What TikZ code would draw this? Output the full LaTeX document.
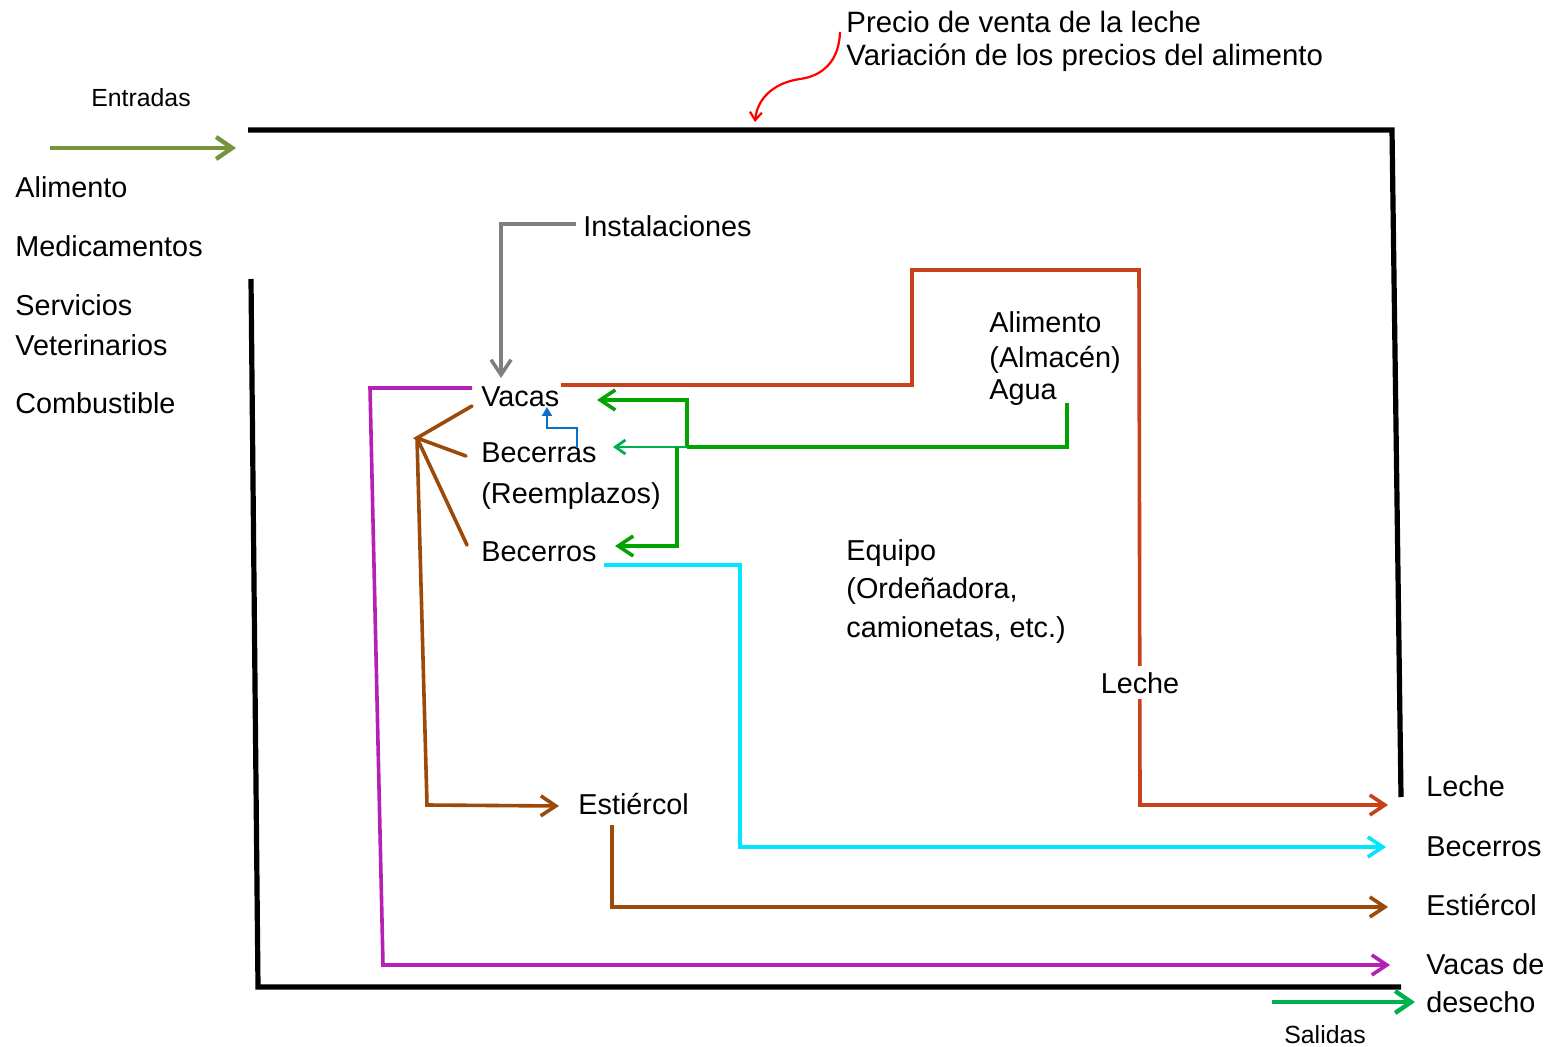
\documentclass[tikz,border=0pt]{standalone}
\usepackage{fontspec}
\setmainfont{Liberation Sans}
\usetikzlibrary{arrows.meta}
\definecolor{cRed}{RGB}{200,64,28}
\definecolor{cBrown}{RGB}{156,74,10}
\definecolor{cCyan}{RGB}{0,230,255}
\definecolor{cMag}{RGB}{181,32,181}
\definecolor{cGreen}{RGB}{0,163,0}
\definecolor{cLGreen}{RGB}{0,176,80}
\definecolor{cGray}{RGB}{127,127,127}
\definecolor{cBlue}{RGB}{10,112,200}
\definecolor{cOlive}{RGB}{119,147,60}
\definecolor{cCurve}{RGB}{255,0,0}
\begin{document}
\begin{tikzpicture}[x=0.5pt,y=-0.5pt,
  lbl/.style={anchor=base west, inner sep=0pt, font=\fontsize{14.4}{17}\selectfont},
  toplbl/.style={anchor=base west, inner sep=0pt, font=\fontsize{14.7}{17}\selectfont},
  smalllbl/.style={anchor=base west, inner sep=0pt, font=\fontsize{12.4}{15}\selectfont},
  flow/.style={line width=1.8pt, -{Straight Barb[length=7.5pt,width=10pt]}},
  bigflow/.style={line width=2.2pt, -{Straight Barb[length=8pt,width=11pt]}},
  thinflow/.style={line width=1.4pt, -{Triangle[length=4.5pt,width=5pt]}},
  frameline/.style={line width=2.6pt}]
\useasboundingbox (0,0) rectangle (1552,1047);

% ---- texts ----
\node[smalllbl] (entradas) at (91,107) {Entradas};
\node[lbl] (ialim) at (15,198) {Alimento};
\node[lbl] (imed) at (15,257) {Medicamentos};
\node[lbl] (iserv) at (15,316) {Servicios};
\node[lbl] (ivet) at (15,356) {Veterinarios};
\node[lbl] (icomb) at (15,414) {Combustible};
\node[toplbl] (precio) at (846,33) {Precio de venta de la leche};
\node[toplbl] (variac) at (846,66) {Variación de los precios del alimento};
\node[lbl] (inst) at (583,237) {Instalaciones};
\node[lbl] (vacas) at (481,407) {Vacas};
\node[lbl] (becerras) at (481,463) {Becerras};
\node[lbl] (reempl) at (481,504) {(Reemplazos)};
\node[lbl] (becerros) at (481,561) {Becerros};
\node[lbl] (alalm) at (989,333) {Alimento};
\node[lbl] (almacen) at (989,368) {(Almacén)};
\node[lbl] (agua) at (989,400) {Agua};
\node[lbl] (equipo) at (846,560) {Equipo};
\node[lbl] (orden) at (846,598) {(Ordeñadora,};
\node[lbl] (camion) at (846,637) {camionetas, etc.)};
\node[lbl] (estierc) at (578,814) {Estiércol};
\node[lbl] (oleche) at (1426,796) {Leche};
\node[lbl] (obecerros) at (1426,856) {Becerros};
\node[lbl] (oestierc) at (1426,915) {Estiércol};
\node[lbl] (ovacas) at (1426,974) {Vacas de};
\node[lbl] (odesecho) at (1426,1012) {desecho};
\node[smalllbl] (salidas) at (1284,1043) {Salidas};

% ---- named coordinates ----
\coordinate (entA) at (50,148);
\coordinate (entB) at (236,148);
\coordinate (salA) at (1272,1002);
\coordinate (salB) at (1415,1002);
\coordinate (curveA) at (840,32);
\coordinate (curveB) at (755,122);
\coordinate (instA) at (576,224);
\coordinate (instB) at (501,378);
\coordinate (redA) at (561,385);
\coordinate (redB) at (1388,805);
\coordinate (aguaA) at (1067,403);
\coordinate (gj1) at (687,447);
\coordinate (gj2) at (677,447);
\coordinate (gVac) at (597,400);
\coordinate (gBra) at (613,447);
\coordinate (gBro) at (615,546);
\coordinate (blueA) at (577,448);
\coordinate (blueB) at (547,407);
\coordinate (fan) at (417,438);
\coordinate (fVac) at (472,406);
\coordinate (fBra) at (466,456);
\coordinate (fBro) at (467,545);
\coordinate (brEst) at (559,806);
\coordinate (est2A) at (612,825);
\coordinate (est2B) at (1388,907);
\coordinate (cyA) at (604,565);
\coordinate (cyB) at (1386,847);
\coordinate (magA) at (472,388);
\coordinate (magB) at (1390,965);

% ---- frame ----
\draw[frameline] (248,130) -- (1392,130) -- (1401,797);
\draw[frameline] (251,279) -- (258,987) -- (1401,987);

% ---- inputs / outputs ----
\draw[bigflow, cOlive] (entA) -- (entB);
\draw[bigflow, cLGreen] (salA) -- (salB);
\draw[cCurve, line width=1.1pt, -{Straight Barb[length=4pt,width=6pt]}]
  (curveA) .. controls (839,62) and (822,76) .. (800,79)
  .. controls (772,83) and (757,100) .. (curveB);

% ---- internal flows ----
\draw[flow, cGray] (instA) -- (501,224) -- (instB);
\draw[flow, cRed] (redA) -- (912,385) -- (912,270) -- (1139,270) -- (1140,805) -- (redB);
\node[anchor=base, fill=white, inner xsep=1pt, inner ysep=3pt, font=\fontsize{14.4}{17}\selectfont] (lleche) at (1140,693) {Leche};

\draw[line width=1.8pt, cGreen] (aguaA) -- (1067,447) -- (gj1);
\draw[flow, cGreen] (gj1) -- (687,400) -- (gVac);
\draw[line width=1.4pt, cLGreen, -{Straight Barb[length=5pt,width=7pt]}] (gj1) -- (gBra);
\draw[flow, cGreen] (gj2) -- (677,546) -- (gBro);
\draw[thinflow, cBlue] (blueA) -- (577,428) -- (547,428) -- (blueB);

\draw[line width=1.8pt, cBrown, line cap=round] (fVac) -- (fan) -- (fBra);
\draw[line width=1.8pt, cBrown, line cap=round] (fBro) -- (fan);
\draw[flow, cBrown] (fan) -- (427,805) -- (brEst);
\draw[flow, cBrown] (est2A) -- (612,907) -- (est2B);
\draw[flow, cCyan] (cyA) -- (740,565) -- (740,847) -- (cyB);
\draw[flow, cMag] (magA) -- (370,388) -- (383,965) -- (magB);
\end{tikzpicture}
\end{document}
